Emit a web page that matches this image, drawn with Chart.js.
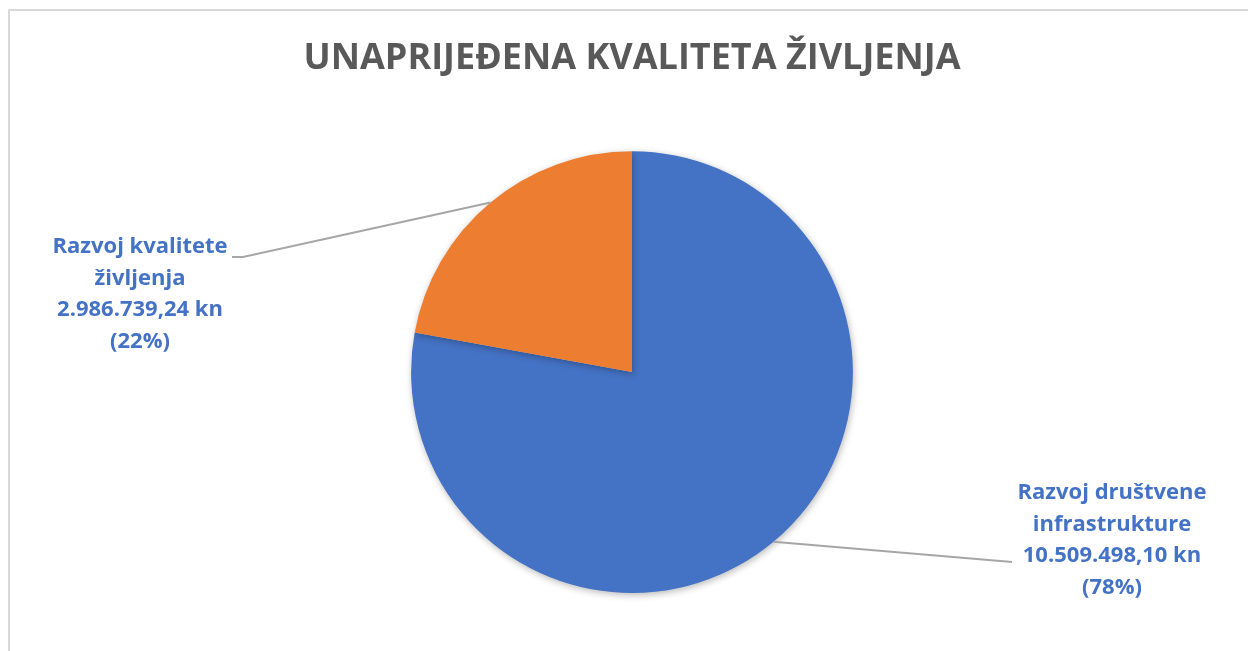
<!DOCTYPE html>
<html>
<head>
<meta charset="utf-8">
<script src="https://cdn.jsdelivr.net/npm/chart.js@4/dist/chart.umd.min.js"></script>
<style>
  html, body { margin: 0; padding: 0; background: #fff; }
  #wrap { width: 1248px; height: 651px; position: relative; }
</style>
</head>
<body>
<div id="wrap"><canvas id="pieChart"></canvas></div>
<script>
// data
const categories = [['Razvoj društvene', 'infrastrukture'], ['Razvoj kvalitete', 'življenja']];
const amounts = [10509498.10, 2986739.24];
const sliceColors = ['#4472C4', '#ED7D31'];

// Croatian number format: 10.509.498,10
function formatKn(v) {
    let parts = v.toFixed(2).split('.');
    let whole = parts[0].replace(/\B(?=(\d{3})+(?!\d))/g, '.');
    return whole + ',' + parts[1] + ' kn';
}

// frame lines (top and left only, like the original)
const framePlugin = {
    id: 'frame',
    beforeDraw(chart) {
        let ctx = chart.ctx;
        ctx.save();
        ctx.strokeStyle = '#d9d9d9';
        ctx.lineWidth = 2;
        ctx.beginPath();
        ctx.moveTo(9, 651);
        ctx.lineTo(9, 10);
        ctx.lineTo(1248, 10);
        ctx.stroke();
        ctx.restore();
    }
};

// soft shadow under the pie
const shadowPlugin = {
    id: 'pieShadow',
    beforeDatasetsDraw(chart) {
        let ctx = chart.ctx;
        ctx.save();
        ctx.shadowColor = 'rgba(0,0,0,0.28)';
        ctx.shadowBlur = 7;
        ctx.shadowOffsetX = 1;
        ctx.shadowOffsetY = 2;
    },
    afterDatasetsDraw(chart) {
        chart.ctx.restore();
    }
};

// outside labels with leader lines
const labelPlugin = {
    id: 'outsideLabels',
    afterDatasetsDraw(chart, args, opts) {
        let ctx = chart.ctx;
        let meta = chart.getDatasetMeta(0);
        let total = amounts.reduce((a, b) => a + b, 0);
        meta.data.forEach((arc, i) => {
            let p = arc.getProps(['x', 'y', 'startAngle', 'endAngle', 'outerRadius'], true);
            let mid = (p.startAngle + p.endAngle) / 2;
            let ex = p.x + Math.cos(mid) * p.outerRadius;
            let ey = p.y + Math.sin(mid) * p.outerRadius;
            let pos = opts.positions[i];

            // leader line
            ctx.save();
            ctx.strokeStyle = '#a6a6a6';
            ctx.lineWidth = 2;
            ctx.beginPath();
            ctx.moveTo(ex, ey);
            pos.line.forEach(pt => ctx.lineTo(p.x + pt[0], p.y + pt[1]));
            ctx.stroke();
            ctx.restore();

            // text block
            let lines = categories[i].concat([formatKn(amounts[i]), '(' + Math.round(amounts[i] / total * 100) + '%)']);
            ctx.save();
            ctx.fillStyle = '#4472C4';
            ctx.font = 'bold 22px "Open Sans"';
            ctx.textAlign = 'center';
            ctx.textBaseline = 'middle';
            let cx = p.x + pos.text[0];
            let cy = p.y + pos.text[1] - (lines.length - 1) * opts.lineGap / 2;
            lines.forEach((ln, k) => ctx.fillText(ln, cx, cy + k * opts.lineGap));
            ctx.restore();
        });
    }
};

const ctx = document.getElementById('pieChart').getContext('2d');
new Chart(ctx, {
    type: 'pie',
    data: {
        labels: categories.map(c => c.join(' ')),
        datasets: [{
            data: amounts,
            backgroundColor: sliceColors,
            borderWidth: 0
        }]
    },
    options: {
        responsive: true,
        maintainAspectRatio: false,
        animation: false,
        layout: { padding: { top: 0, bottom: 58, left: 16, right: 0 } },
        plugins: {
            legend: { display: false },
            tooltip: { enabled: false },
            title: {
                display: true,
                text: 'UNAPRIJEĐENA KVALITETA ŽIVLJENJA',
                color: '#595959',
                font: { family: '"Open Sans"', size: 36, weight: 'bold' },
                padding: { top: 37, bottom: 71 }
            },
            outsideLabels: {
                lineGap: 31.5,
                positions: [
                    { line: [[380, 190]], text: [480, 168] },
                    { line: [[-389, -115], [-400, -115]], text: [-492, -78] }
                ]
            }
        }
    },
    plugins: [framePlugin, shadowPlugin, labelPlugin]
});
</script>
</body>
</html>
